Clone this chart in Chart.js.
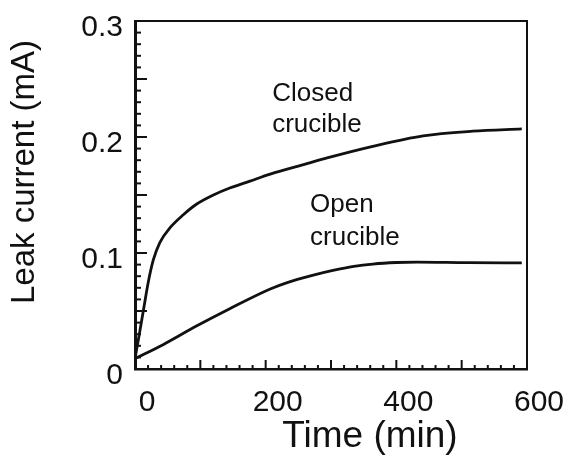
<!DOCTYPE html>
<html lang="en">
<head>
  <meta charset="UTF-8">
  <title>Leak current vs time</title>
  <script src="https://cdn.jsdelivr.net/npm/chart.js"></script>
  <style>
    body { margin: 0; background: #fff; }
    .box { position: relative; width: 565px; height: 459px; }
  </style>
</head>
<body>
  <div class="box">
    <canvas id="leakChart"></canvas>
  </div>

<script>
  // closed crucible
  var timeClosed = [0, 6, 13, 20, 28, 38, 54, 74, 94, 120, 145, 176, 207, 263, 294, 364, 441, 517, 592]
  var currentClosed = [0.009, 0.028, 0.051, 0.074, 0.094, 0.109, 0.122, 0.133, 0.142, 0.150, 0.156, 0.162, 0.168, 0.177, 0.182, 0.192, 0.201, 0.205, 0.207]

  // open crucible
  var timeOpen = [0, 43, 94, 145, 207, 233, 270, 303, 335, 364, 400, 432, 508, 592]
  var currentOpen = [0.009, 0.021, 0.037, 0.052, 0.069, 0.0745, 0.0805, 0.085, 0.0885, 0.0905, 0.0918, 0.0922, 0.0917, 0.0915]

  var xTicks = [0, 200, 400, 600]
  var yTicks = [0, 0.1, 0.2, 0.3]

  var xTitle = "Time (min)"
  var yTitle = "Leak current (mA)"

  // curve labels
  var labelClosed = ["Closed", "crucible"]
  var labelOpen = ["Open", "crucible"]

  function toPoints(xs, ys) {
    var pts = []
    for (var i = 0; i < xs.length; i++) {
      pts.push({ x: xs[i], y: ys[i] })
    }
    return pts
  }

  const FONT = '"Liberation Sans", Arial, sans-serif'

  // axes frame, inward tick marks, curve labels and axis titles
  const decor = {
    id: 'decor',
    afterDraw(chart) {
      const ctx = chart.ctx
      const a = chart.chartArea
      const xs = chart.scales.x
      const ys = chart.scales.y
      ctx.save()
      ctx.strokeStyle = '#111'
      ctx.fillStyle = '#111'

      // frame
      ctx.lineWidth = 2
      ctx.beginPath()
      ctx.moveTo(a.left, a.top)
      ctx.lineTo(a.right, a.top)
      ctx.lineTo(a.right, a.bottom)
      ctx.stroke()

      // bottom ticks: every 20 min, longer every 100
      for (let t = 20; t < 600; t += 20) {
        const px = xs.getPixelForValue(t)
        const len = (t % 100 === 0) ? 9 : 4
        ctx.beginPath()
        ctx.moveTo(px, a.bottom)
        ctx.lineTo(px, a.bottom - len)
        ctx.stroke()
      }

      // left ticks: every 0.01, longer every 0.05
      for (let k = 1; k < 30; k++) {
        const py = ys.getPixelForValue(k / 100)
        const len = (k % 5 === 0) ? 12 : 6
        ctx.beginPath()
        ctx.moveTo(a.left, py)
        ctx.lineTo(a.left + len, py)
        ctx.stroke()
      }

      // curve labels
      ctx.font = '26px ' + FONT
      ctx.textAlign = 'left'
      ctx.textBaseline = 'alphabetic'
      ctx.fillText(labelClosed[0], xs.getPixelForValue(210), ys.getPixelForValue(0.231))
      ctx.fillText(labelClosed[1], xs.getPixelForValue(210), ys.getPixelForValue(0.204))
      ctx.fillText(labelOpen[0], xs.getPixelForValue(268), ys.getPixelForValue(0.135))
      ctx.fillText(labelOpen[1], xs.getPixelForValue(268), ys.getPixelForValue(0.107))

      // x title (sits right of centre in the original)
      ctx.font = '37px ' + FONT
      ctx.textAlign = 'center'
      ctx.textBaseline = 'middle'
      ctx.fillText(xTitle, 370, 437)

      // y title
      ctx.font = '33px ' + FONT
      ctx.translate(25, 172)
      ctx.rotate(-Math.PI / 2)
      ctx.fillText(yTitle, 0, 0)
      ctx.restore()
    }
  }

  const data = {
    datasets: [{
      label: 'Closed crucible',
      data: toPoints(timeClosed, currentClosed),
      borderColor: '#111',
      borderWidth: 2.8,
      pointRadius: 0,
      cubicInterpolationMode: 'monotone'
    }, {
      label: 'Open crucible',
      data: toPoints(timeOpen, currentOpen),
      borderColor: '#111',
      borderWidth: 2.8,
      pointRadius: 0,
      cubicInterpolationMode: 'monotone'
    }]
  }

  const config = {
    type: 'line',
    data: data,
    options: {
      responsive: true,
      maintainAspectRatio: false,
      animation: false,
      layout: { padding: { top: 21, right: 38, left: 0, bottom: 0 } },
      plugins: {
        legend: { display: false },
        tooltip: { enabled: false }
      },
      scales: {
        x: {
          type: 'linear',
          min: 0,
          max: 600,
          afterBuildTicks: function (scale) {
            scale.ticks = xTicks.map(function (v) { return { value: v } })
          },
          afterFit: function (scale) {
            scale.height = 90
            scale.paddingLeft = 0
            scale.paddingRight = 0
          },
          grid: { display: false, drawTicks: false },
          border: { display: true, color: '#111', width: 2.5 },
          ticks: {
            color: '#111',
            font: { family: FONT, size: 30 },
            padding: 16,
            labelOffset: 12,
            maxRotation: 0
          }
        },
        y: {
          type: 'linear',
          min: 0,
          max: 0.3,
          afterBuildTicks: function (scale) {
            scale.ticks = yTicks.map(function (v) { return { value: v } })
          },
          afterFit: function (scale) {
            scale.width = 135
            scale.paddingTop = 0
            scale.paddingBottom = 0
          },
          grid: { display: false, drawTicks: false },
          border: { display: true, color: '#111', width: 3 },
          ticks: {
            color: '#111',
            font: { family: FONT, size: 30 },
            padding: 12,
            labelOffset: 7,
            callback: function (v) { return v === 0 ? '0' : v.toFixed(1) }
          }
        }
      }
    },
    plugins: [decor]
  }

  const leakChart = new Chart(document.getElementById('leakChart'), config)
</script>
</body>
</html>
